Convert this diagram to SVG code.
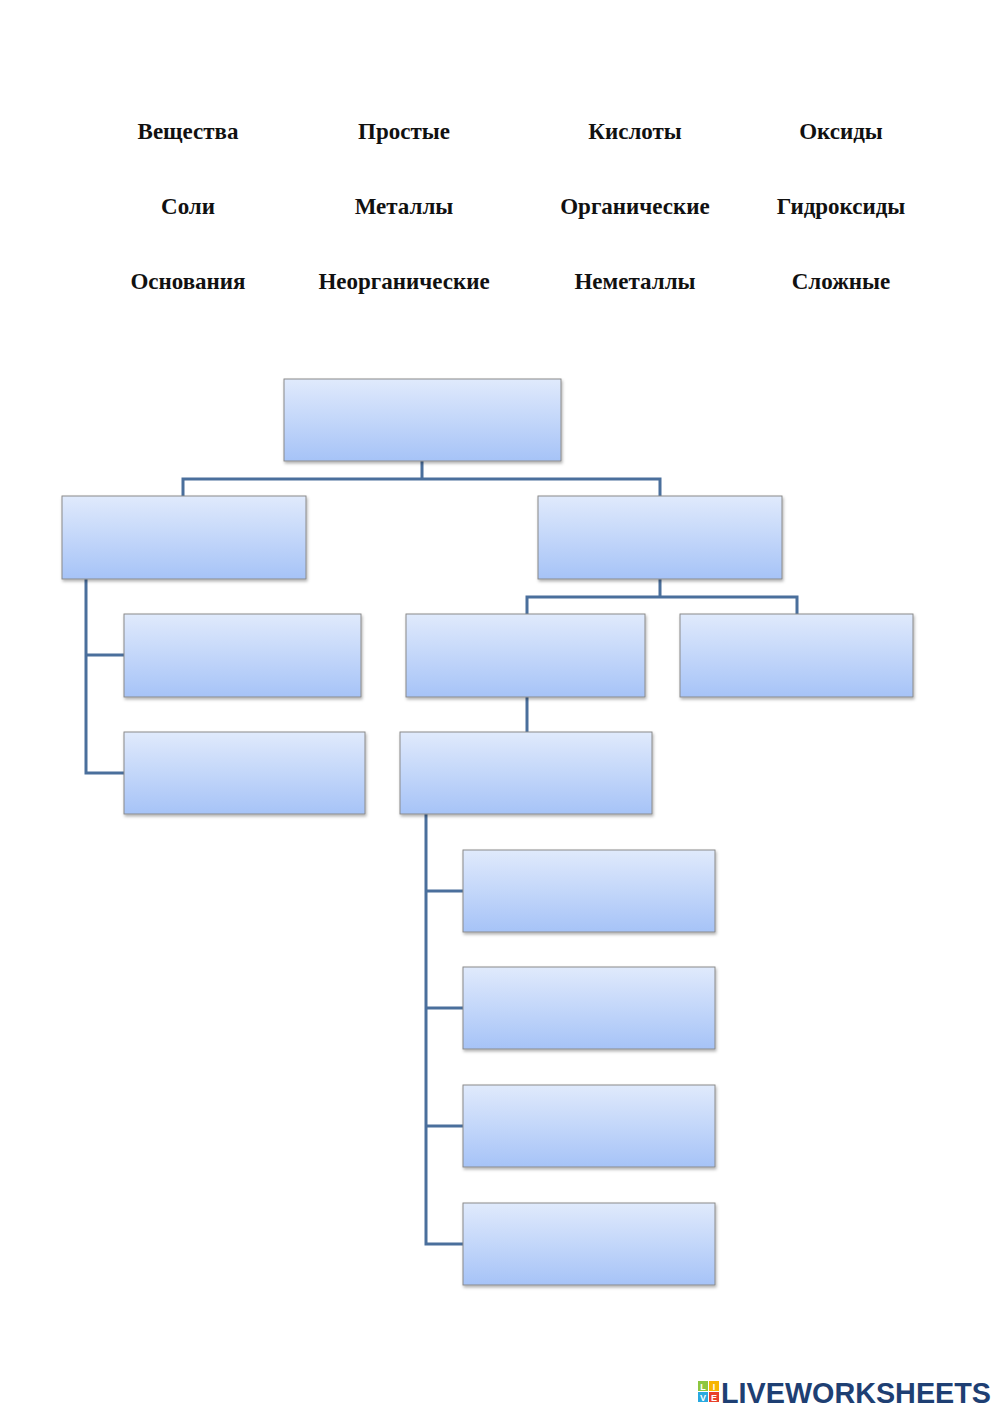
<svg xmlns="http://www.w3.org/2000/svg" width="1000" height="1413" viewBox="0 0 1000 1413">
<defs>
<linearGradient id="g" x1="0" y1="0" x2="0" y2="1"><stop offset="0" stop-color="#e0eafc"/><stop offset="1" stop-color="#a6c3f7"/></linearGradient>
<filter id="s" x="-5%" y="-5%" width="115%" height="125%"><feDropShadow dx="1" dy="2" stdDeviation="1.5" flood-color="#000" flood-opacity="0.3"/></filter>
</defs>
<style>
.w{font-family:"Liberation Serif","DejaVu Serif",serif;font-weight:bold;font-size:23px;fill:#111;text-anchor:middle}
.b{fill:url(#g);stroke:#8a8a8a;stroke-width:1;filter:url(#s)}
.c{fill:none;stroke:#4a6f9c;stroke-width:3}
.lg{font-family:"Liberation Sans",Arial,sans-serif;font-weight:bold;fill:#1e3f73}
.sq{font-family:"Liberation Sans",sans-serif;font-weight:bold;font-size:9px;fill:#fff;text-anchor:middle}
</style>
<rect width="1000" height="1413" fill="#fff"/>
<g id="words">
<text class="w" x="188" y="139">Вещества</text>
<text class="w" x="404" y="139">Простые</text>
<text class="w" x="635" y="139">Кислоты</text>
<text class="w" x="841" y="139">Оксиды</text>
<text class="w" x="188" y="214">Соли</text>
<text class="w" x="404" y="214">Металлы</text>
<text class="w" x="635" y="214">Органические</text>
<text class="w" x="841" y="214">Гидроксиды</text>
<text class="w" x="188" y="289">Основания</text>
<text class="w" x="404" y="289">Неорганические</text>
<text class="w" x="635" y="289">Неметаллы</text>
<text class="w" x="841" y="289">Сложные</text>
</g>
<g id="connectors">
<path class="c" d="M422,461V479M183,496V479H660V496"/>
<path class="c" d="M86,579V773H124M86,655H124"/>
<path class="c" d="M660,579V597M527,614V597H797V614"/>
<path class="c" d="M527,697V732"/>
<path class="c" d="M426,814V1244H463M426,891H463M426,1008H463M426,1126H463"/>
</g>
<g id="n1"><rect class="b" x="284" y="379" width="277" height="82"/></g>
<g id="n2"><rect class="b" x="62" y="496" width="244" height="83"/></g>
<g id="n3"><rect class="b" x="538" y="496" width="244" height="83"/></g>
<g id="n4"><rect class="b" x="124" y="614" width="237" height="83"/></g>
<g id="n5"><rect class="b" x="124" y="732" width="241" height="82"/></g>
<g id="n6"><rect class="b" x="406" y="614" width="239" height="83"/></g>
<g id="n7"><rect class="b" x="680" y="614" width="233" height="83"/></g>
<g id="n8"><rect class="b" x="400" y="732" width="252" height="82"/></g>
<g id="n9"><rect class="b" x="463" y="850" width="252" height="82"/></g>
<g id="n10"><rect class="b" x="463" y="967" width="252" height="82"/></g>
<g id="n11"><rect class="b" x="463" y="1085" width="252" height="82"/></g>
<g id="n12"><rect class="b" x="463" y="1203" width="252" height="82"/></g>
<g id="logo">
<rect x="698" y="1381" width="10" height="10" fill="#8cc63f"/>
<rect x="709" y="1381" width="10" height="10" fill="#f7b500"/>
<rect x="698" y="1392" width="10" height="10" fill="#29a9e0"/>
<rect x="709" y="1392" width="10" height="10" fill="#e8412c"/>
<text class="sq" x="703" y="1390">L</text><text class="sq" x="714" y="1390">I</text>
<text class="sq" x="703" y="1401">V</text><text class="sq" x="714" y="1401">E</text>
<text class="lg" x="721" y="1403" font-size="29" textLength="270" lengthAdjust="spacingAndGlyphs">LIVEWORKSHEETS</text>
</g>
</svg>
